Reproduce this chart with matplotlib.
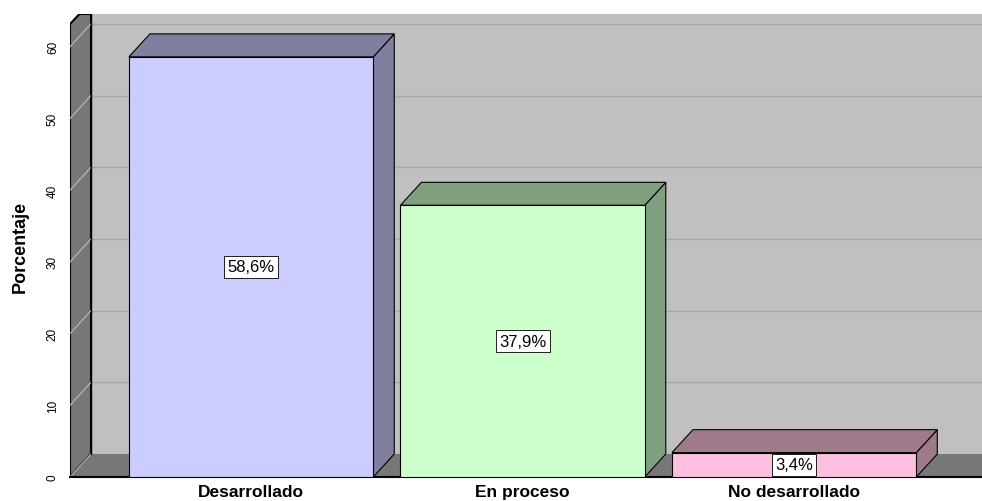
import matplotlib.pyplot as plt
from matplotlib.patches import Polygon

categories = ["Desarrollado", "En proceso", "No desarrollado"]
values = [58.6, 37.9, 3.4]
labels = ["58,6%", "37,9%", "3,4%"]
yticks = [0, 10, 20, 30, 40, 50, 60]

front_cols = ["#ccccff", "#ccffcc", "#ffbfdf"]
side_cols = ["#7f7f9f", "#7f9f7f", "#9f7a8a"]

plt.rcParams["font.family"] = ["Liberation Sans", "DejaVu Sans"]

W, H = 982, 502
fig = plt.figure(figsize=(W / 100, H / 100), dpi=100)
ax = fig.add_axes([70 / W, 24 / H, (982 - 70) / W, (478 - 15) / H])

x0, x1 = -0.667, 2.692
ymax = 463 / 7.17
dx, dy = 0.0773, 3.2
bw = 0.9

ax.set_xlim(x0, x1)
ax.set_ylim(0, ymax)

# back wall
ax.add_patch(Polygon([(x0 + dx, dy), (x1 + 1, dy), (x1 + 1, ymax + 5), (x0 + dx, ymax + 5)],
                     closed=True, fc="#c0c0c0", ec="none", zorder=1))
for v in yticks[1:]:
    ax.plot([x0 + dx, x1 + 1], [v + dy, v + dy], color="#a6a6a6", lw=1, zorder=2)

# left wall (top corner cut)
ax.add_patch(Polygon([(x0, 0), (x0 + dx, dy), (x0 + dx, ymax), (x0 + dx * 0.45, ymax),
                      (x0, ymax - 1.4)],
                     closed=True, fc="#777777", ec="black", lw=1.5, zorder=3))
for v in yticks[1:]:
    ax.plot([x0, x0 + dx], [v, v + dy], color="#bdbdbd", lw=0.8, zorder=4)

# floor
ax.add_patch(Polygon([(x0, 0), (x1 + 1, 0), (x1 + 1, dy), (x0 + dx, dy)],
                     closed=True, fc="#777777", ec="none", zorder=3))
ax.plot([x0, x0 + dx], [0, dy], color="#bdbdbd", lw=0.8, zorder=4)
ax.plot([x0, x1 + 1], [0, 0], color="black", lw=1.5, zorder=4, clip_on=False)
ax.plot([x0 + dx, x0 + dx], [dy, ymax + 5], color="black", lw=1, zorder=4)

# bars
for i, v in enumerate(values):
    l, r = i - bw / 2, i + bw / 2
    ax.add_patch(Polygon([(r, 0), (r + dx, dy), (r + dx, v + dy), (r, v)],
                         closed=True, fc=side_cols[i], ec="black", lw=0.8, zorder=5))
    ax.add_patch(Polygon([(l, v), (r, v), (r + dx, v + dy), (l + dx, v + dy)],
                         closed=True, fc=side_cols[i], ec="black", lw=0.8, zorder=5))
    ax.add_patch(Polygon([(l, 0), (r, 0), (r, v), (l, v)],
                         closed=True, fc=front_cols[i], ec="black", lw=0.8, zorder=6))
    ax.text(i, v / 2, labels[i], ha="center", va="center", fontsize=12, zorder=7,
            bbox=dict(boxstyle="square,pad=0.2", fc="white", ec="black", lw=0.6))

ax.set_yticks(yticks)
ax.set_yticklabels([str(t) for t in yticks], rotation=90, va="center", fontsize=8.5)
ax.set_xticks(range(len(categories)))
ax.set_xticklabels(categories, fontsize=12.5, fontweight="bold")
ax.tick_params(axis="y", length=0, pad=8)
ax.tick_params(axis="x", length=0, pad=5)
ax.set_ylabel("Porcentaje", fontsize=13, fontweight="bold", labelpad=13)
for s in ax.spines.values():
    s.set_visible(False)

fig.savefig("out.png", dpi=100)
plt.close(fig)
